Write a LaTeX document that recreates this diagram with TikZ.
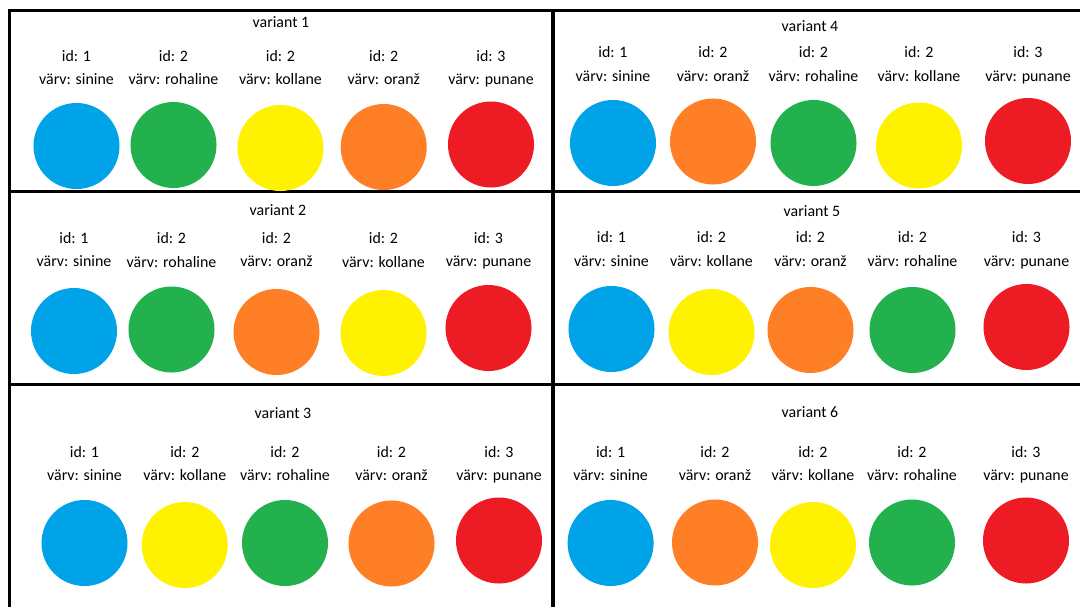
\documentclass[tikz,border=0pt]{standalone}
\usepackage{fontspec}
\setmainfont{Carlito}
\definecolor{ballblue}{HTML}{00A2E8}
\definecolor{ballgreen}{HTML}{22B14C}
\definecolor{ballyellow}{HTML}{FFF200}
\definecolor{ballorange}{HTML}{FF7F27}
\definecolor{ballred}{HTML}{ED1C24}
\tikzset{
  ball/.style={circle, fill=#1, minimum size=2.15cm, inner sep=0pt},
  lbl/.style={font=\fontsize{11.3}{13}\selectfont, inner sep=0pt, text depth=0pt},
  frame/.style={line width=2.2pt}
}
\begin{document}
\begin{tikzpicture}[x=0.025cm,y=-0.025cm]
    \useasboundingbox (0,0) rectangle (1080,607);
    % frame lines
    \draw[frame] (8,10.5) -- (1080,10.5);
    \draw[frame] (9.5,9) -- (9.5,607);
    \draw[frame] (8,191.5) -- (1080,191.5);
    \draw[frame] (8,384.5) -- (1080,384.5);
    \draw[line width=2.8pt] (553,9) -- (553,607);
    % variant 1
    \node[lbl] (t1) at (281,22) {variant 1};
    \foreach \i/\x/\cy/\id/\name/\col in {1/76.5/146/1/sinine/ballblue, 2/173.5/145/2/rohaline/ballgreen, 3/280.5/148/2/kollane/ballyellow, 4/383.7/147/2/oranž/ballorange, 5/491/144.5/3/punane/ballred}
    {
        \node[lbl] (v1id\i) at (\x,56) {id: \id};
        \node[lbl] (v1col\i) at (\x,79) {värv: \name};
        \node[ball=\col] (v1b\i) at (\x,\cy) {};
    }
    % variant 2
    \node[lbl] (t2) at (278,210) {variant 2};
    \foreach \i/\x/\cy/\id/\name/\col in {1/74/331/1/sinine/ballblue, 2/171.5/329.5/2/rohaline/ballgreen, 3/276.5/332/2/oranž/ballorange, 4/383.5/333/2/kollane/ballyellow, 5/488.5/328/3/punane/ballred}
    {
        \node[lbl] (v2id\i) at (\x,238) {id: \id};
        \node[lbl] (v2col\i) at (\x,261.5) {värv: \name};
        \node[ball=\col] (v2b\i) at (\x,\cy) {};
    }
    % variant 3
    \node[lbl] (t3) at (283,413) {variant 3};
    \foreach \i/\x/\cy/\id/\name/\col in {1/84.5/543/1/sinine/ballblue, 2/184.8/545/2/kollane/ballyellow, 3/285/543/2/rohaline/ballgreen, 4/391.5/543.5/2/oranž/ballorange, 5/499/540.5/3/punane/ballred}
    {
        \node[lbl] (v3id\i) at (\x,452) {id: \id};
        \node[lbl] (v3col\i) at (\x,475) {värv: \name};
        \node[ball=\col] (v3b\i) at (\x,\cy) {};
    }
    % variant 4
    \node[lbl] (t4) at (810,26) {variant 4};
    \foreach \i/\x/\cy/\id/\name/\col in {1/613/143/1/sinine/ballblue, 2/713/141.5/2/oranž/ballorange, 3/813.5/143/2/rohaline/ballgreen, 4/919/145.5/2/kollane/ballyellow, 5/1028/141/3/punane/ballred}
    {
        \node[lbl] (v4id\i) at (\x,52) {id: \id};
        \node[lbl] (v4col\i) at (\x,76) {värv: \name};
        \node[ball=\col] (v4b\i) at (\x,\cy) {};
    }
    % variant 5
    \node[lbl] (t5) at (812,211) {variant 5};
    \foreach \i/\x/\cy/\id/\name/\col in {1/611.5/329/1/sinine/ballblue, 2/711.5/332/2/kollane/ballyellow, 3/810.5/330/2/oranž/ballorange, 4/912.5/330/2/rohaline/ballgreen, 5/1026.5/327/3/punane/ballred}
    {
        \node[lbl] (v5id\i) at (\x,237) {id: \id};
        \node[lbl] (v5col\i) at (\x,261) {värv: \name};
        \node[ball=\col] (v5b\i) at (\x,\cy) {};
    }
    % variant 6
    \node[lbl] (t6) at (810,412) {variant 6};
    \foreach \i/\x/\cy/\id/\name/\col in {1/610.6/543/1/sinine/ballblue, 2/715/542.5/2/oranž/ballorange, 3/813/545/2/kollane/ballyellow, 4/912/542.5/2/rohaline/ballgreen, 5/1026/540.5/3/punane/ballred}
    {
        \node[lbl] (v6id\i) at (\x,452) {id: \id};
        \node[lbl] (v6col\i) at (\x,475) {värv: \name};
        \node[ball=\col] (v6b\i) at (\x,\cy) {};
    }
\end{tikzpicture}
\end{document}
